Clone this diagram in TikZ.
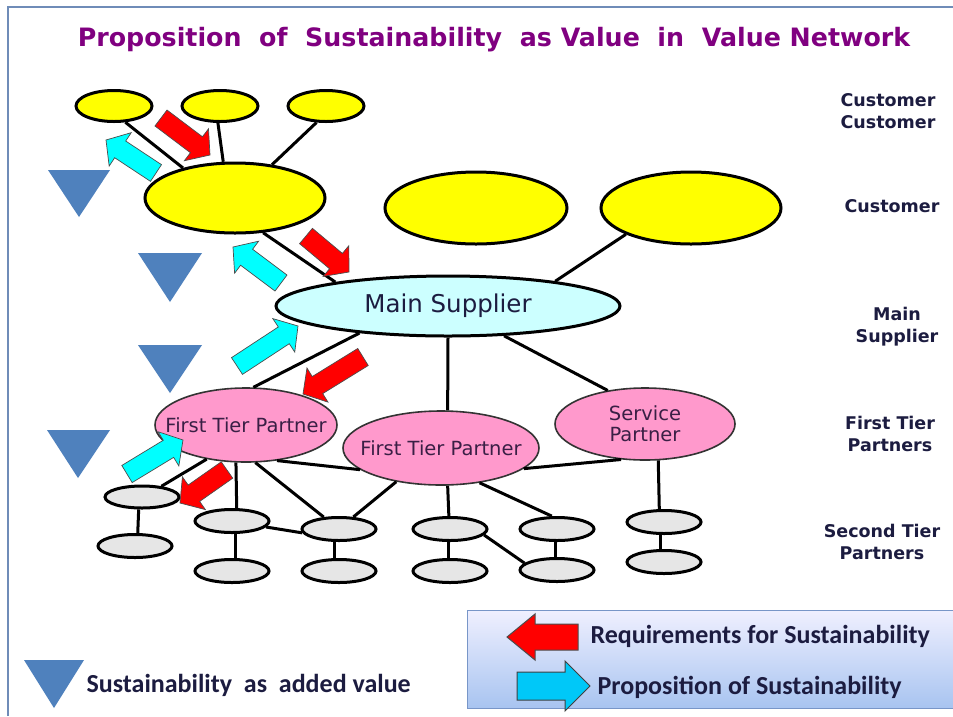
\documentclass[tikz,border=0pt]{standalone}
\usepackage{fontspec}
\setmainfont{DejaVu Sans}
\newfontfamily\legfont{Carlito}
\usetikzlibrary{shapes.geometric,calc}
\definecolor{ttl}{HTML}{800080}
\definecolor{navy}{HTML}{1C1C40}
\definecolor{plum}{HTML}{3A1F45}
\definecolor{yel}{HTML}{FFFF00}
\definecolor{msup}{HTML}{CCFFFF}
\definecolor{pinkp}{HTML}{FF99CC}
\definecolor{grayp}{HTML}{E6E6E6}
\definecolor{trib}{HTML}{4F81BD}
\definecolor{cyanA}{HTML}{00FFFF}
\definecolor{cyanL}{HTML}{00C8F8}
\definecolor{redA}{HTML}{FF0000}
\definecolor{framec}{HTML}{6F8CB8}
\newcommand\blkarrow[6]{%
  \coordinate (ba-t) at (#2);
  \coordinate (ba-p) at (#3);
  \coordinate (ba-b) at ($(ba-p)!#6!(ba-t)$);
  \draw[#1] ($(ba-t)!#4!90:(ba-p)$) -- ($(ba-b)!#4!-90:(ba-t)$) -- ($(ba-b)!#5!-90:(ba-t)$) -- (ba-p) -- ($(ba-b)!#5!90:(ba-t)$) -- ($(ba-b)!#4!90:(ba-t)$) -- ($(ba-t)!#4!-90:(ba-p)$) -- cycle;}
\tikzset{
  ell/.style={ellipse, inner sep=0pt, draw=black, line width=3pt},
  yelE/.style={ell, fill=yel},
  grayE/.style={ell, fill=grayp, minimum width=74pt, minimum height=23pt},
  pinkE/.style={ellipse, inner sep=0pt, draw=black!80, line width=1.6pt, fill=pinkp, text=plum, font=\fontsize{19.5}{22}\selectfont},
  conn/.style={line width=3pt, black},
  redarr/.style={fill=redA, draw=black!70, line width=0.7pt},
  cyanarr/.style={fill=cyanA, draw=black!70, line width=0.7pt},
  tri/.style={fill=trib},
  lab/.style={align=center, text=navy, font=\bfseries\fontsize{17.5}{22}\selectfont},
  legtxt/.style={anchor=west, text=navy, font=\legfont\bfseries\fontsize{26}{28}\selectfont},
}
\begin{document}
\begin{tikzpicture}[x=1pt,y=-1pt]
\useasboundingbox (0,0) rectangle (953,716);
\fill[white] (0,0) rectangle (953,716);
\draw[framec, line width=2pt] (8,716) -- (8,7) -- (953,7);
% title
\node[text=ttl, font=\bfseries\fontsize{25.3}{28}\selectfont] (title) at (494,40) {Proposition\ \ of\ \ Sustainability\ \ as Value\ \ in\ \ Value Network};
% customer customer
\node[yelE, minimum width=76pt, minimum height=31pt] (E1) at (114,106) {};
\node[yelE, minimum width=76pt, minimum height=31pt] (E2) at (220,106) {};
\node[yelE, minimum width=76pt, minimum height=31pt] (E3) at (326,106) {};
% customers
\node[yelE, minimum width=180pt, minimum height=70pt] (C1) at (235,198) {};
\node[yelE, minimum width=182pt, minimum height=72pt] (C2) at (476,208) {};
\node[yelE, minimum width=180pt, minimum height=72pt] (C3) at (691,208) {};
% main supplier
\node[ell, fill=msup, minimum width=344pt, minimum height=60pt, text=navy, font=\fontsize{24.5}{28}\selectfont] (MS) at (448,306) {\makebox[0pt]{Main Supplier}};
% first tier
\node[pinkE, minimum width=182pt, minimum height=74pt] (F1) at (246,425) {\makebox[0pt]{First Tier Partner}};
\node[pinkE, minimum width=196pt, minimum height=74pt] (F2) at (441,448) {\makebox[0pt]{First Tier Partner}};
\node[pinkE, minimum width=180pt, minimum height=72pt, align=center] (SP) at (645,424) {Service\\[-1pt]Partner};
% second tier
\node[grayE, minimum height=22pt] (G1) at (142,497) {};
\node[grayE] (G2) at (135,546) {};
\node[grayE] (G3) at (232,521) {};
\node[grayE] (G4) at (232,571) {};
\node[grayE] (G5) at (339,529) {};
\node[grayE] (G6) at (339,571) {};
\node[grayE] (G7) at (450,529) {};
\node[grayE] (G8) at (450,571) {};
\node[grayE] (G9) at (557,529) {};
\node[grayE] (G10) at (557,570) {};
\node[grayE] (G11) at (664,522) {};
\node[grayE] (G12) at (664,562) {};
% connectors
\draw[conn] (E1.-55) -- (C1.150);
\draw[conn] (E2.-97) -- (C1.108);
\draw[conn] (E3.-120) -- (C1.42);
\draw[conn] (C1.-51) -- (MS.168);
\draw[conn] (C3.-158) -- (MS.13);
\draw[conn] (MS.-163) -- (F1.79);
\draw[conn] (MS.-90) -- (F2.80);
\draw[conn] (MS.-28) -- (SP.138);
\draw[conn] (F1.-139) -- (G1.29);
\draw[conn] (F1.-105) -- (G3.70);
\draw[conn] (F1.-76) -- (G5.142);
\draw[conn] (F1.-49) -- (F2.-165);
\draw[conn] (F2.-14) -- (SP.-124);
\draw[conn] (F2.-143) -- (G5.40);
\draw[conn] (F2.-80) -- (G7.95);
\draw[conn] (F2.-42) -- (G9.112);
\draw[conn] (G7.-10) -- (G10.168);
\draw[conn] (SP.-70) -- (G11.110);
\draw[conn] (G1.-105) -- (G2.78);
\draw[conn] (G3.-75) -- (G4.75);
\draw[conn] (G3.-10) -- (G5.-174);
\draw[conn] (G5.-110) -- (G6.110);
\draw[conn] (G7.-95) -- (G8.95);
\draw[conn] (G9.-97) -- (G10.97);
\draw[conn] (G11.-105) -- (G12.105);
% block arrows
\blkarrow{redarr}{161,118}{210,155}{10pt}{20pt}{17pt}
\blkarrow{cyanarr}{156,173}{106,140}{10pt}{20pt}{17pt}
\blkarrow{redarr}{306,236}{349,272}{10pt}{20pt}{17pt}
\blkarrow{cyanarr}{281,283}{233,247}{10pt}{20pt}{17pt}
\blkarrow{cyanarr}{237,366}{298,326}{10pt}{20pt}{17pt}
\blkarrow{redarr}{363,357}{303,394}{10pt}{20pt}{17pt}
\blkarrow{cyanarr}{127,474}{183,440}{10pt}{20pt}{17pt}
\blkarrow{redarr}{227,470}{180,503}{10pt}{20pt}{17pt}
% triangles
\fill[tri] (48,170) -- (110,170) -- (79,217) -- cycle;
\fill[tri] (138,253) -- (202,253) -- (170,302) -- cycle;
\fill[tri] (138,345) -- (202,345) -- (170,393) -- cycle;
\fill[tri] (47,430) -- (110,430) -- (78,478) -- cycle;
% right labels
\node[lab] (L1) at (888,111) {Customer\\Customer};
\node[lab] (L2) at (892,206) {Customer};
\node[lab] (L3) at (897,327) {Main\\Supplier};
\node[lab] (L4) at (890,434) {First Tier\\Partners};
\node[lab] (L5) at (882,542) {Second Tier\\Partners};
% legend
\fill[tri] (24,660) -- (84,660) -- (54,708) -- cycle;
\node[legtxt] (LT) at (83,685) {Sustainability\ \ as\ \ added value};
\shade[top color=blue!6, bottom color={rgb,255:red,168;green,196;blue,240}, draw={rgb,255:red,120;green,150;blue,200}, line width=1pt] (467,610) rectangle (960,708);
\blkarrow{redarr, line width=1pt}{578,637}{507,637}{13pt}{23pt}{28pt}
\blkarrow{fill=cyanL, draw=black!75, line width=1pt}{517,686}{590,686}{14pt}{25pt}{25pt}
\node[legtxt] (LR) at (587,636) {Requirements for Sustainability};
\node[legtxt] (LP) at (594,687) {Proposition of Sustainability};
\end{tikzpicture}
\end{document}
